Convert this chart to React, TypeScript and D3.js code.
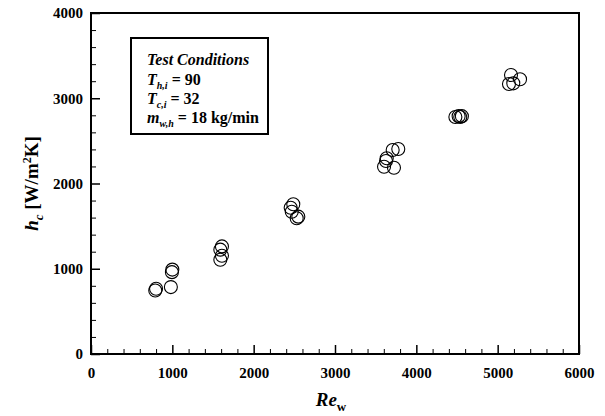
import * as d3 from "d3";
import { useRef, useEffect } from "react";

// Re_w and h_c readings, grouped by test point
const reW = [790, 800, 982, 995, 1000, 1590, 1610, 1590, 1610, 2487, 2455, 2468, 2549, 2529, 3778, 3709, 3636, 3627, 3603, 3725, 4480, 4520, 4560, 4540, 5164, 5275, 5139, 5192];
const hC = [745, 765, 785, 960, 990, 1106, 1153, 1224, 1262, 1756, 1716, 1669, 1611, 1592, 2405, 2393, 2296, 2264, 2197, 2185, 2780, 2790, 2790, 2780, 3273, 3222, 3167, 3175];

const xTicks = [0, 1000, 2000, 3000, 4000, 5000, 6000];
const yTicks = [0, 1000, 2000, 3000, 4000];

const W = 605;
const H = 416;
const margin = { top: 13, right: 26, bottom: 62, left: 91 };

export default function App() {
  const ref = useRef<SVGSVGElement>(null);

  useEffect(() => {
    const svg = d3.select(ref.current);
    svg.selectAll("*").remove();

    const bw = W - margin.left - margin.right;
    const bh = H - margin.top - margin.bottom;

    const x = d3.scaleLinear().domain([0, 6000]).range([0, bw]);
    const y = d3.scaleLinear().domain([0, 4000]).range([bh, 0]);

    const serif = "'Liberation Serif', 'Times New Roman', serif";

    const g = svg.append("g").attr("transform", `translate(${margin.left},${margin.top})`);

    // minor ticks, inward
    const xMinor = d3.range(0, 6001, 200).filter(v => v % 1000 !== 0);
    const yMinor = d3.range(0, 4001, 200).filter(v => v % 1000 !== 0);

    g.append("g")
      .attr("transform", `translate(0,${bh})`)
      .call(d3.axisBottom(x).tickValues(xMinor).tickSize(-5).tickFormat(() => ""))
      .call(a => a.select(".domain").remove());
    g.append("g")
      .call(d3.axisLeft(y).tickValues(yMinor).tickSize(-5).tickFormat(() => ""))
      .call(a => a.select(".domain").remove());

    // major ticks with labels
    const xa = g.append("g")
      .attr("transform", `translate(0,${bh})`)
      .call(d3.axisBottom(x).tickValues(xTicks).tickSizeInner(-9).tickSizeOuter(0).tickPadding(13).tickFormat(d3.format("d")));
    xa.select(".domain").remove();
    xa.selectAll("line").attr("stroke-width", 1.5);
    xa.selectAll("text")
      .attr("font-family", serif)
      .attr("font-weight", "bold")
      .attr("font-size", 15)
      .attr("fill", "#000");

    const ya = g.append("g")
      .call(d3.axisLeft(y).tickValues(yTicks).tickSizeInner(-9).tickSizeOuter(0).tickPadding(8).tickFormat(d3.format("d")));
    ya.select(".domain").remove();
    ya.selectAll("line").attr("stroke-width", 1.5);
    ya.selectAll("text")
      .attr("font-family", serif)
      .attr("font-weight", "bold")
      .attr("font-size", 15)
      .attr("fill", "#000");

    // frame
    g.append("rect")
      .attr("width", bw)
      .attr("height", bh)
      .attr("fill", "none")
      .attr("stroke", "#000")
      .attr("stroke-width", 2);

    // data points
    g.selectAll("circle.pt")
      .data(reW.map((r, i) => [r, hC[i]]))
      .enter()
      .append("circle")
      .attr("class", "pt")
      .attr("cx", d => x(d[0]))
      .attr("cy", d => y(d[1]))
      .attr("r", 6.5)
      .attr("fill", "none")
      .attr("stroke", "#000")
      .attr("stroke-width", 1.1);

    // axis titles
    const xt = svg.append("text")
      .attr("x", margin.left + bw / 2 - 4)
      .attr("y", 406)
      .attr("text-anchor", "middle")
      .attr("font-family", serif)
      .attr("font-weight", "bold")
      .attr("font-size", 19);
    xt.append("tspan").attr("font-style", "italic").text("Re");
    xt.append("tspan").attr("font-size", 13).attr("dy", 5).text("w");

    const yt = svg.append("text")
      .attr("transform", `translate(38,${margin.top + bh / 2}) rotate(-90)`)
      .attr("text-anchor", "middle")
      .attr("font-family", serif)
      .attr("font-weight", "bold")
      .attr("font-size", 19);
    yt.append("tspan").attr("font-style", "italic").text("h");
    yt.append("tspan").attr("font-style", "italic").attr("font-size", 13).attr("dy", 5).text("c");
    yt.append("tspan").attr("dy", -5).text(" [W/m");
    yt.append("tspan").attr("font-size", 12).attr("dy", -7).text("2");
    yt.append("tspan").attr("dy", 7).text("K]");

    // test conditions box
    svg.append("rect")
      .attr("x", 131)
      .attr("y", 38)
      .attr("width", 137)
      .attr("height", 96)
      .attr("fill", "#fff")
      .attr("stroke", "#000")
      .attr("stroke-width", 2);

    const lx = 147;
    svg.append("text")
      .attr("x", lx).attr("y", 65)
      .attr("font-family", serif).attr("font-weight", "bold").attr("font-style", "italic").attr("font-size", 16)
      .text("Test Conditions");

    const line = (yy: number, main: string, sub: string, rest: string) => {
      const t = svg.append("text")
        .attr("x", lx).attr("y", yy)
        .attr("font-family", serif).attr("font-weight", "bold").attr("font-size", 16);
      t.append("tspan").attr("font-style", "italic").text(main);
      t.append("tspan").attr("font-style", "italic").attr("font-size", 10).attr("dy", 4).text(sub);
      t.append("tspan").attr("dy", -4).text(rest);
    };
    line(85, "T", "h,i", " = 90");
    line(104, "T", "c,i", " = 32");
    line(123, "m", "w,h", " = 18 kg/min");
  }, []);

  return (
    <svg
      ref={ref}
      width={W}
      height={H}
      style={{ position: "absolute", left: 0, top: 0, display: "block", background: "#fff" }}
    />
  );
}
